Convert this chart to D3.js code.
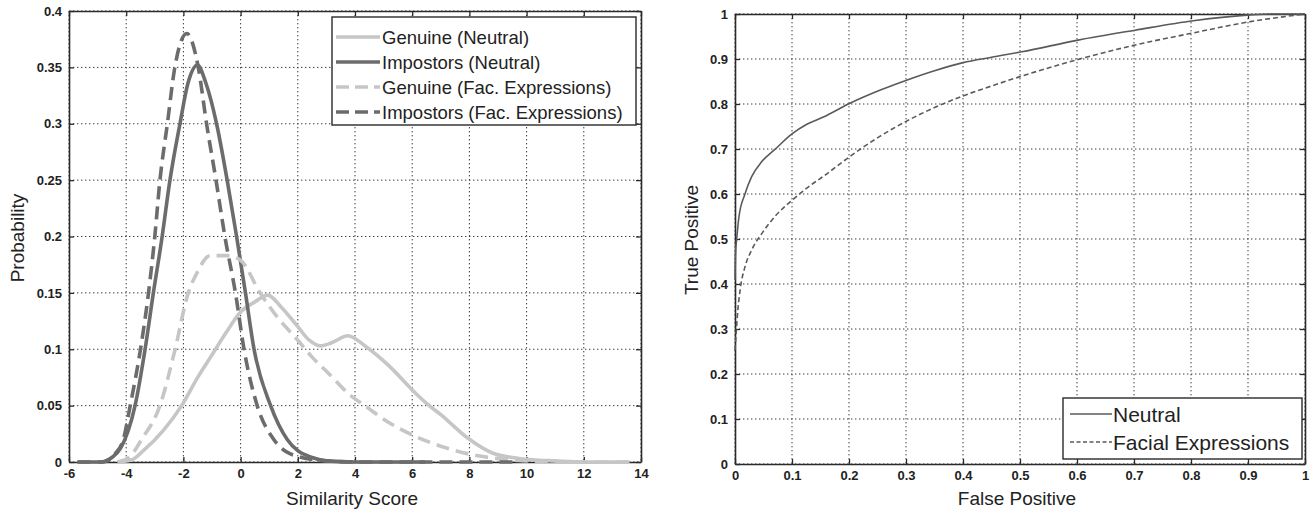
<!DOCTYPE html>
<html><head><meta charset="utf-8">
<script src="https://cdn.jsdelivr.net/npm/d3@7"></script>
<style>
body{margin:0;background:#fff}
svg{display:block}
text{font-family:"Liberation Sans",Arial,Helvetica,sans-serif;fill:#222}
</style>
</head><body>
<svg id="c" width="1310" height="511"></svg>
<script>
// ---------- DATA ----------
const leftXTicks = [-6,-4,-2,0,2,4,6,8,10,12,14];
const leftYTicks = [0,0.05,0.1,0.15,0.2,0.25,0.3,0.35,0.4];
const rightXTicks = [0,0.1,0.2,0.3,0.4,0.5,0.6,0.7,0.8,0.9,1];
const rightYTicks = [0,0.1,0.2,0.3,0.4,0.5,0.6,0.7,0.8,0.9,1];

const leftSeriesNames = ["Genuine (Neutral)","Impostors (Neutral)","Genuine (Fac. Expressions)","Impostors (Fac. Expressions)"];
const rightSeriesNames = ["Neutral","Facial Expressions"];

const genuineNeutral = [[-4.3,0],[-3.8,0.002],[-3.4,0.01],[-2.7,0.028],[-2.06,0.05],[-1.5,0.075],[-1.0,0.095],[-0.5,0.115],[0,0.133],[0.5,0.142],[0.95,0.148],[1.4,0.138],[2.0,0.12],[2.4,0.108],[2.8,0.103],[3.2,0.106],[3.75,0.112],[4.4,0.102],[5.2,0.085],[6.0,0.064],[6.5,0.052],[7.0,0.042],[7.95,0.021],[8.8,0.008],[9.5,0.004],[10.2,0.002],[11,0.001],[12,0],[13.6,0]];
const impostorsNeutral = [[-5.7,0],[-4.9,0],[-4.5,0.004],[-4.2,0.012],[-3.69,0.05],[-3.34,0.1],[-3.05,0.15],[-2.76,0.197],[-2.47,0.25],[-2.12,0.3],[-1.85,0.335],[-1.51,0.352],[-1.2,0.335],[-0.84,0.3],[-0.47,0.25],[-0.14,0.2],[0.17,0.15],[0.47,0.1],[1.05,0.05],[1.63,0.02],[2.0,0.01],[2.5,0.004],[3.0,0.001],[4,0],[6.45,0]];
const genuineFacExp = [[-4.3,0],[-3.9,0.004],[-3.46,0.02],[-2.82,0.05],[-2.29,0.1],[-1.83,0.15],[-1.54,0.167],[-1.07,0.183],[-0.44,0.183],[0,0.179],[0.68,0.15],[1.3,0.128],[2.0,0.108],[2.5,0.093],[3.06,0.079],[3.8,0.06],[4.4,0.049],[5.0,0.038],[6.0,0.024],[7.0,0.014],[8.0,0.007],[9.0,0.003],[10,0.001],[11,0],[13.6,0]];
const impostorsFacExp = [[-5.7,0],[-4.8,0],[-4.4,0.007],[-4.1,0.02],[-3.86,0.05],[-3.5,0.1],[-3.22,0.15],[-3.0,0.2],[-2.82,0.25],[-2.56,0.3],[-2.3,0.35],[-1.88,0.38],[-1.48,0.35],[-1.19,0.3],[-0.86,0.25],[-0.55,0.2],[-0.18,0.15],[0.12,0.1],[0.58,0.05],[1.16,0.02],[1.6,0.009],[2.0,0.005],[3.0,0.001],[4,0],[9.6,0]];

const rocNeutral = [[0,0.41],[0.001,0.47],[0.003,0.5],[0.007,0.55],[0.0175,0.6],[0.029,0.638],[0.047,0.672],[0.07,0.699],[0.0994,0.733],[0.126,0.755],[0.155,0.771],[0.199,0.8],[0.255,0.831],[0.301,0.853],[0.35,0.874],[0.40,0.892],[0.45,0.904],[0.503,0.916],[0.602,0.942],[0.702,0.964],[0.804,0.985],[0.904,0.998],[0.94,1.0],[1,1]];
const rocFacExp = [[0,0.253],[0.002,0.29],[0.004,0.327],[0.009,0.387],[0.0175,0.438],[0.029,0.475],[0.047,0.512],[0.07,0.55],[0.099,0.585],[0.129,0.616],[0.158,0.642],[0.2,0.682],[0.254,0.728],[0.301,0.762],[0.35,0.792],[0.40,0.818],[0.45,0.84],[0.503,0.862],[0.602,0.899],[0.702,0.931],[0.804,0.958],[0.904,0.983],[1.0,1.0]];

// ---------- DRAW ----------
const svg = d3.select("#c");
const axisColor = "#2a2a2a";
const gridColor = "#3a3a3a";

function panel(box, xDom, yDom, xTicks, yTicks, fmt){
  const x = d3.scaleLinear().domain(xDom).range([box.x0, box.x1]);
  const y = d3.scaleLinear().domain(yDom).range([box.y1, box.y0]);
  const g = svg.append("g");
  // grid
  const grid = g.append("g").attr("stroke", gridColor).attr("stroke-width", 1).attr("stroke-dasharray", "1.4,2.6");
  xTicks.forEach(t => grid.append("line").attr("x1", x(t)).attr("x2", x(t)).attr("y1", box.y0).attr("y2", box.y1));
  yTicks.forEach(t => grid.append("line").attr("y1", y(t)).attr("y2", y(t)).attr("x1", box.x0).attr("x2", box.x1));
  const style = sel => {
    sel.selectAll("path").attr("stroke", axisColor).attr("stroke-width", 1.6);
    sel.selectAll("line").attr("stroke", axisColor).attr("stroke-width", 1.3);
    sel.selectAll("text").attr("fill", "#222").attr("font-size", 13).attr("font-weight", "bold")
       .attr("font-family", '"Liberation Sans",Arial,sans-serif');
  };
  g.append("g").attr("transform", `translate(0,${box.y1})`)
    .call(d3.axisBottom(x).tickValues(xTicks).tickSizeInner(-5).tickSizeOuter(0).tickPadding(7).tickFormat(fmt)).call(style);
  g.append("g").attr("transform", `translate(0,${box.y0})`)
    .call(d3.axisTop(x).tickValues(xTicks).tickSizeInner(-5).tickSizeOuter(0).tickFormat("")).call(style);
  g.append("g").attr("transform", `translate(${box.x0},0)`)
    .call(d3.axisLeft(y).tickValues(yTicks).tickSizeInner(-5).tickSizeOuter(0).tickPadding(7).tickFormat(fmt)).call(style);
  g.append("g").attr("transform", `translate(${box.x1},0)`)
    .call(d3.axisRight(y).tickValues(yTicks).tickSizeInner(-5).tickSizeOuter(0).tickFormat("")).call(style);
  return {x, y, g};
}

const fmt = d => String(+d.toFixed(2));

// Left panel
const L = panel({x0:69, x1:641, y0:11, y1:462}, [-6,14], [0,0.4], leftXTicks, leftYTicks, fmt);
const lineL = d3.line().x(d => L.x(d[0])).y(d => L.y(d[1])).curve(d3.curveMonotoneX);
const lightC = "#c6c6c6", darkC = "#6c6c6c";
const leftStyles = [
  {data: genuineNeutral, color: lightC, dash: null},
  {data: impostorsNeutral, color: darkC, dash: null},
  {data: genuineFacExp, color: lightC, dash: "13,7"},
  {data: impostorsFacExp, color: darkC, dash: "13,7"}
];
leftStyles.forEach(s => {
  L.g.append("path").datum(s.data).attr("d", lineL).attr("fill", "none")
    .attr("stroke", s.color).attr("stroke-width", 3.6).attr("stroke-linejoin", "round")
    .attr("stroke-dasharray", s.dash);
});
// Left legend
const lg = svg.append("g");
lg.append("rect").attr("x", 332).attr("y", 17).attr("width", 304).attr("height", 108)
  .attr("fill", "#fff").attr("stroke", axisColor).attr("stroke-width", 1.4);
leftSeriesNames.forEach((n, i) => {
  const cy = 37 + i * 25;
  lg.append("line").attr("x1", 336).attr("x2", 380).attr("y1", cy).attr("y2", cy)
    .attr("stroke", leftStyles[i].color).attr("stroke-width", 3.6)
    .attr("stroke-dasharray", leftStyles[i].dash ? "13,6" : null);
  lg.append("text").attr("x", 382).attr("y", cy + 6.5).attr("font-size", 18.5).text(n);
});
// Left axis labels
svg.append("text").attr("x", 352).attr("y", 505).attr("text-anchor", "middle").attr("font-size", 19).text("Similarity Score");
svg.append("text").attr("transform", "translate(24,238) rotate(-90)").attr("text-anchor", "middle").attr("font-size", 19).text("Probability");

// Right panel
const R = panel({x0:735, x1:1305, y0:14, y1:464}, [0,1], [0,1], rightXTicks, rightYTicks, fmt);
const lineR = d3.line().x(d => R.x(d[0])).y(d => R.y(d[1])).curve(d3.curveMonotoneX);
const rocStyles = [
  {data: rocNeutral, dash: null},
  {data: rocFacExp, dash: "5,3"}
];
rocStyles.forEach(s => {
  R.g.append("path").datum(s.data).attr("d", lineR).attr("fill", "none")
    .attr("stroke", "#5a5a5a").attr("stroke-width", 1.6).attr("stroke-dasharray", s.dash);
});
// Right legend
const rg = svg.append("g");
rg.append("rect").attr("x", 1063).attr("y", 398).attr("width", 239).attr("height", 61)
  .attr("fill", "#fff").attr("stroke", axisColor).attr("stroke-width", 1.4);
rightSeriesNames.forEach((n, i) => {
  const cy = 414 + i * 28;
  rg.append("line").attr("x1", 1070).attr("x2", 1112).attr("y1", cy).attr("y2", cy)
    .attr("stroke", "#5a5a5a").attr("stroke-width", 1.4).attr("stroke-dasharray", rocStyles[i].dash ? "4,2.5" : null);
  rg.append("text").attr("x", 1113).attr("y", cy + 8).attr("font-size", 21).text(n);
});
svg.append("text").attr("x", 1017).attr("y", 505).attr("text-anchor", "middle").attr("font-size", 19).text("False Positive");
svg.append("text").attr("transform", "translate(698,240) rotate(-90)").attr("text-anchor", "middle").attr("font-size", 19).text("True Positive");
</script>
</body></html>
